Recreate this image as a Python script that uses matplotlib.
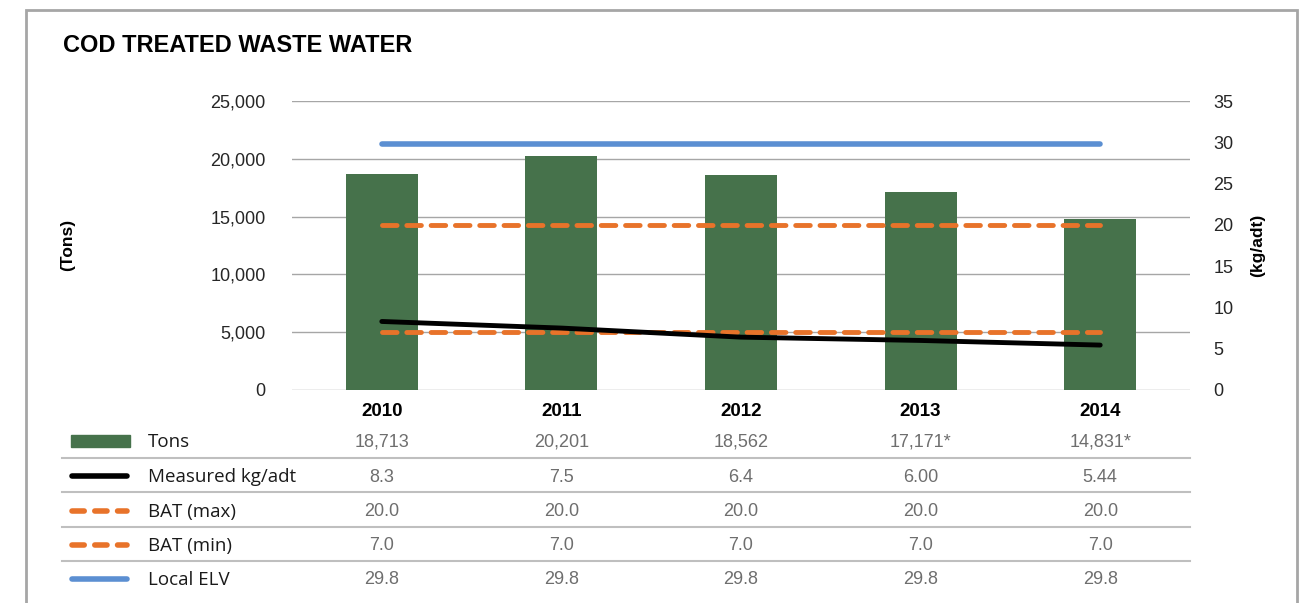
import matplotlib
matplotlib.use("Agg")
import matplotlib.pyplot as plt
from matplotlib.patches import Rectangle
from matplotlib.lines import Line2D

years = ["2010", "2011", "2012", "2013", "2014"]
tons = [18713, 20201, 18562, 17171, 14831]
tons_labels = ["18,713", "20,201", "18,562", "17,171*", "14,831*"]
measured = [8.3, 7.5, 6.4, 6.00, 5.44]
measured_labels = ["8.3", "7.5", "6.4", "6.00", "5.44"]
bat_max = [20.0, 20.0, 20.0, 20.0, 20.0]
bat_min = [7.0, 7.0, 7.0, 7.0, 7.0]
local_elv = [29.8, 29.8, 29.8, 29.8, 29.8]
left_ticks = [0, 5000, 10000, 15000, 20000, 25000]
right_ticks = [0, 5, 10, 15, 20, 25, 30, 35]

W, H = 1303, 603
fig = plt.figure(figsize=(W / 100, H / 100), dpi=100)
plt.rcParams['font.family'] = ['Liberation Sans', 'DejaVu Sans']

def fx(px):
    return px / W

def fy(py):
    return 1 - py / H

GREEN = "#46724B"
ORANGE = "#E8732A"
BLUE = "#5B8FD2"
GRAY = "#6e6e6e"

# frame
fig.patches.append(Rectangle((fx(26), fy(640)), fx(1297) - fx(26), fy(10) - fy(640),
                             transform=fig.transFigure, fill=False,
                             edgecolor="#a6a6a6", linewidth=2, clip_on=False))

ax = fig.add_axes([fx(292), fy(390), fx(1190) - fx(292), fy(101) - fy(390)])
x = list(range(len(years)))
ax.bar(x, tons, width=0.4, color=GREEN, zorder=2)
ax.set_xlim(-0.5, 4.5)
ax.set_ylim(0, 25000)
ax.set_yticks(left_ticks)
ax.set_yticklabels([f"{v:,}" for v in left_ticks])
ax.tick_params(axis='y', length=0, pad=19, labelsize=13, labelcolor="#262626")
ax.set_xticks(x)
ax.set_xticklabels(years, fontweight="bold", fontsize=13.5)
ax.tick_params(axis='x', length=0, pad=9)
for s in ax.spines.values():
    s.set_visible(False)
ax.grid(axis='y', color="#a6a6a6", linewidth=1, zorder=0)
ax.set_axisbelow(True)

ax2 = ax.twinx()
ax2.set_ylim(0, 35)
ax2.set_yticks(right_ticks)
ax2.tick_params(axis='y', length=0, pad=17, labelsize=13, labelcolor="#262626")
for s in ax2.spines.values():
    s.set_visible(False)
ax2.plot(x, local_elv, color=BLUE, linewidth=4, solid_capstyle="round", zorder=3)
ax2.plot(x, bat_max, color=ORANGE, linewidth=3.5, dashes=(3, 2), dash_capstyle="round", zorder=3)
ax2.plot(x, bat_min, color=ORANGE, linewidth=3.5, dashes=(3, 2), dash_capstyle="round", zorder=3)
ax2.plot(x, measured, color="black", linewidth=3.5, solid_capstyle="round", zorder=4)

fig.text(fx(63), fy(45), "COD TREATED WASTE WATER", fontsize=17, fontweight="bold",
         ha="left", va="center", color="black")
fig.text(fx(68), fy(245), "(Tons)", rotation=90, fontsize=12.5, fontweight="bold",
         ha="center", va="center")
fig.text(fx(1258), fy(245), "(kg/adt)", rotation=90, fontsize=12.5, fontweight="bold",
         ha="center", va="center")

# data table
rows = [
    ("Tons", tons_labels, "bar", None),
    ("Measured kg/adt", measured_labels, "line", "black"),
    ("BAT (max)", [f"{v:.1f}" for v in bat_max], "dash", ORANGE),
    ("BAT (min)", [f"{v:.1f}" for v in bat_min], "dash", ORANGE),
    ("Local ELV", [f"{v:.1f}" for v in local_elv], "line", BLUE),
]
row_y = [442, 477, 512, 546, 580]
sep_y = [458, 492, 527, 561]
xt = ax.get_xaxis_transform()
for (label, vals, kind, col), py in zip(rows, row_y):
    if kind == "bar":
        fig.patches.append(Rectangle((fx(71), fy(447)), fx(130) - fx(71), fy(435) - fy(447),
                                     transform=fig.transFigure, color=GREEN))
    elif kind == "line":
        fig.add_artist(Line2D([fx(72), fx(127)], [fy(py - 1), fy(py - 1)], color=col,
                              linewidth=4, solid_capstyle="round", transform=fig.transFigure))
    else:
        fig.add_artist(Line2D([fx(72), fx(127)], [fy(py - 1), fy(py - 1)], color=col,
                              linewidth=4, dashes=(2.2, 1.9), dash_capstyle="round",
                              transform=fig.transFigure))
    fig.text(fx(148), fy(py), label, fontsize=13.5, family=["Open Sans", "DejaVu Sans"],
             color="#1a1a1a", ha="left", va="center")
    axes_y = (fy(py) - fy(390)) / (fy(101) - fy(390))
    for xi, v in zip(x, vals):
        ax.text(xi, axes_y, v, transform=xt, ha="center", va="center",
                fontsize=13, color=GRAY, clip_on=False)
for py in sep_y:
    fig.add_artist(Line2D([fx(62), fx(1190)], [fy(py), fy(py)], color="#bfbfbf",
                          linewidth=1.5, transform=fig.transFigure))

fig.savefig("out.png", dpi=100)
